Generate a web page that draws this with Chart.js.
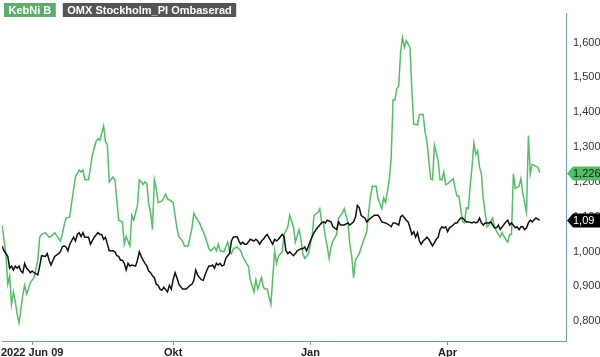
<!DOCTYPE html>
<html>
<head>
<meta charset="utf-8">
<script src="https://cdn.jsdelivr.net/npm/chart.js@4"></script>
<style>
html,body{margin:0;padding:0;background:#fff;}
#wrap{width:600px;height:357px;position:relative;}
</style>
</head>
<body>
<div id="wrap"><canvas id="c" width="600" height="357"></canvas></div>
<script>
// Trading-day index of each reading (day 0 = first bar of the chart)
const kebniDays = [0,2,3,4,5,6,7,8,9,11,12,13,14,15,17,19,20,21,23,25,26,28,31,32,33,34,36,37,39,41,42,43,44,46,48,49,50,51,52,54,55,56,57,59,60,61,62,64,65,66,68,69,70,72,73,74,75,76,77,78,79,80,81,82,83,85,86,87,88,90,91,92,93,94,96,97,99,101,102,103,105,107,109,110,111,113,114,115,116,118,120,121,122,123,125,127,128,130,131,132,134,135,136,138,139,140,141,143,144,145,146,147,149,150,152,153,155,156,158,159,160,161,163,164,165,166,168,169,170,171,172,173,174,175,176,178,179,181,182,184,185,186,187,188,190,192,194,195,196,197,199,200,202,203,204,206,207,208,209,210,211,212,213,214,215,217,218,219,221,222,224,225,226,228,229,230,232,233,234,235,236,237,240,241,242,243,245,246,247,248,249,250,251,252,253,254,255,256,258,259,261,262,264,265,266,267,269,270,271,272,273,275,276,277,279,280,281,282,285,286];
const kebniValues = [1.076,0.994,0.906,0.930,0.848,0.884,0.856,0.820,0.795,0.875,0.903,0.878,0.892,0.911,0.925,0.975,1.041,1.049,1.054,1.041,1.043,1.054,1.030,1.049,1.076,1.096,1.099,1.140,1.214,1.234,1.228,1.234,1.206,1.206,1.275,1.297,1.316,1.324,1.319,1.360,1.316,1.305,1.200,1.214,1.206,1.151,1.090,1.085,1.021,1.043,1.016,1.104,1.090,1.132,1.206,1.200,1.192,1.200,1.195,1.137,1.112,1.063,1.206,1.181,1.140,1.145,1.154,1.165,1.151,1.145,1.140,1.104,1.068,1.043,1.030,1.016,1.016,1.068,1.110,1.099,1.082,1.057,1.027,1.008,1.002,1.013,1.002,1.021,1.002,0.999,1.027,1.002,0.994,1.008,1.013,1.002,0.986,0.966,0.958,0.919,0.884,0.919,0.892,0.925,0.897,0.892,0.892,0.848,0.925,1.002,0.966,0.986,0.999,1.049,1.071,1.104,1.071,1.027,1.063,1.035,0.994,0.980,0.994,1.021,1.049,1.104,1.112,1.123,1.085,1.082,1.041,1.013,0.980,1.013,1.030,1.049,1.096,1.110,1.123,1.082,1.021,0.986,0.925,0.975,0.994,1.027,1.057,1.112,1.159,1.187,1.187,1.151,1.123,1.154,1.140,1.206,1.269,1.435,1.435,1.468,1.476,1.572,1.614,1.586,1.605,1.586,1.462,1.366,1.363,1.393,1.393,1.344,1.316,1.209,1.206,1.305,1.261,1.206,1.206,1.228,1.192,1.195,1.209,1.181,1.159,1.159,1.085,1.082,1.126,1.123,1.187,1.242,1.311,1.278,1.289,1.242,1.223,1.151,1.071,1.076,1.096,1.068,1.049,1.041,1.054,1.043,1.027,1.049,1.049,1.223,1.181,1.187,1.209,1.167,1.112,1.333,1.223,1.250,1.242,1.226];

const omxDays = [0,1,3,4,5,6,7,8,9,10,11,12,13,14,15,16,17,19,20,21,23,24,25,26,28,30,31,32,33,34,35,36,38,39,40,41,42,43,44,46,47,49,51,52,53,54,55,56,57,59,60,61,62,63,64,65,66,67,68,69,71,72,73,74,75,76,77,78,79,80,81,82,83,84,85,86,88,89,90,91,92,93,94,96,98,100,101,102,103,104,105,106,107,108,109,110,111,112,113,114,115,116,117,118,119,120,121,122,123,125,126,127,128,129,130,131,132,134,135,136,137,138,139,140,141,143,144,145,146,147,149,150,151,152,153,155,156,157,159,160,161,162,163,164,165,166,167,169,170,171,172,173,175,176,178,179,180,182,184,185,187,188,189,190,191,192,193,194,196,197,198,200,201,202,204,206,207,208,209,211,212,213,215,216,217,218,219,220,221,222,223,224,225,226,227,229,231,232,233,234,235,236,237,238,240,241,242,243,244,245,247,248,250,251,252,253,254,255,256,257,259,260,261,262,263,264,265,268,269,270,271,273,274,275,276,277,278,279,280,281,282,284,286];
const omxValues = [1.016,1.002,0.986,0.952,0.958,0.947,0.958,0.952,0.958,0.944,0.939,0.966,0.952,0.947,0.939,0.944,0.939,0.933,0.958,0.988,0.986,0.994,0.975,0.961,0.986,0.994,0.999,1.013,1.016,1.013,1.002,1.021,1.041,1.030,1.049,1.054,1.043,1.054,1.041,1.041,1.021,1.041,1.054,1.049,1.049,1.035,1.041,1.021,1.002,1.002,0.999,0.988,0.986,0.975,0.975,0.966,0.947,0.966,0.958,0.961,0.958,0.975,0.999,0.986,0.975,0.966,0.958,0.944,0.939,0.930,0.925,0.906,0.903,0.892,0.889,0.897,0.884,0.903,0.892,0.919,0.939,0.925,0.906,0.892,0.892,0.903,0.906,0.917,0.947,0.933,0.925,0.919,0.917,0.933,0.947,0.958,0.958,0.961,0.952,0.966,0.961,0.966,0.958,0.961,0.980,0.988,0.994,1.030,1.041,1.043,1.030,1.021,1.027,1.021,1.021,1.027,1.035,1.030,1.035,1.030,1.021,1.030,1.035,1.043,1.049,1.030,1.021,1.035,1.030,1.035,1.049,1.043,1.002,0.994,0.999,0.988,0.994,1.002,1.008,1.008,1.013,1.002,1.016,1.030,1.043,1.054,1.063,1.076,1.082,1.085,1.082,1.090,1.085,1.071,1.063,1.085,1.076,1.076,1.082,1.076,1.085,1.099,1.132,1.126,1.104,1.099,1.096,1.085,1.096,1.099,1.104,1.104,1.096,1.085,1.082,1.076,1.071,1.082,1.082,1.076,1.099,1.104,1.090,1.085,1.068,1.049,1.057,1.041,1.054,1.030,1.021,1.030,1.035,1.041,1.035,1.016,1.035,1.041,1.063,1.071,1.068,1.071,1.057,1.068,1.076,1.082,1.082,1.090,1.096,1.096,1.085,1.085,1.082,1.085,1.082,1.085,1.096,1.082,1.076,1.082,1.082,1.085,1.076,1.068,1.068,1.076,1.063,1.085,1.090,1.076,1.082,1.068,1.071,1.063,1.071,1.071,1.063,1.068,1.082,1.090,1.085,1.096,1.090];

const seriesNames = ['KebNi B', 'OMX Stockholm_PI Ombaserad'];
const seriesColors = ['#52bf66', '#111111'];
const legendColors = ['#5fab6c', '#555555'];
const tagLabels = ['1,226', '1,09'];
const tagTextColors = ['#1a1a1a', '#ffffff'];
const tagFillColors = ['#52bf66', '#000000'];

const xTickDays = [16, 91, 164, 237];
const xTickLabels = ['2022 Jun 09', 'Okt', 'Jan', 'Apr'];
const yTickValues = [0.8, 0.9, 1.0, 1.1, 1.2, 1.3, 1.4, 1.5, 1.6];

function pts(days, vals) { return days.map((d, i) => ({x: d, y: vals[i]})); }

const legendPlugin = {
  id: 'boxLegend',
  afterDraw(chart) {
    const ctx = chart.ctx;
    ctx.save();
    ctx.font = 'bold 11px "Liberation Sans", Arial, sans-serif';
    ctx.textBaseline = 'middle';
    let x = 4;
    seriesNames.forEach((name, i) => {
      const w = ctx.measureText(name).width + 9;
      ctx.fillStyle = legendColors[i];
      ctx.fillRect(x, 3, w, 14);
      ctx.fillStyle = '#ffffff';
      ctx.fillText(name, x + 4.5, 10.5);
      x += w + 7;
    });
    ctx.restore();
  }
};

const tagPlugin = {
  id: 'lastTags',
  afterDatasetsDraw(chart) {
    const ctx = chart.ctx;
    const ys = chart.scales.y;
    const left = chart.chartArea.right + 1;
    ctx.save();
    ctx.font = '11px "Liberation Sans", Arial, sans-serif';
    ctx.textBaseline = 'middle';
    chart.data.datasets.forEach((ds, i) => {
      const last = ds.data[ds.data.length - 1];
      const y = Math.round(ys.getPixelForValue(last.y)) + 0.5;
      const h = 14;
      ctx.fillStyle = tagFillColors[i];
      ctx.beginPath();
      ctx.moveTo(left, y);
      ctx.lineTo(left + 6, y - h / 2);
      ctx.lineTo(600, y - h / 2);
      ctx.lineTo(600, y + h / 2);
      ctx.lineTo(left + 6, y + h / 2);
      ctx.closePath();
      ctx.fill();
      ctx.fillStyle = tagTextColors[i];
      ctx.fillText(tagLabels[i], left + 6, y + 0.5);
    });
    ctx.restore();
  }
};

const axisColor = '#6b9cc0';

new Chart(document.getElementById('c'), {
  type: 'line',
  data: {
    datasets: [
      {label: seriesNames[0], data: pts(kebniDays, kebniValues), borderColor: seriesColors[0], borderWidth: 1.5, pointRadius: 0, tension: 0, order: 2},
      {label: seriesNames[1], data: pts(omxDays, omxValues), borderColor: seriesColors[1], borderWidth: 1.5, pointRadius: 0, tension: 0, order: 1}
    ]
  },
  options: {
    responsive: false,
    animation: false,
    layout: {padding: 0},
    plugins: {legend: {display: false}, tooltip: {enabled: false}},
    scales: {
      x: {
        type: 'linear',
        min: 0, max: 300,
        afterBuildTicks(axis) { axis.ticks = xTickDays.map(v => ({value: v})); },
        afterFit(axis) { axis.height = 16; },
        ticks: {
          autoSkip: false, maxRotation: 0, padding: 1,
          color: '#222222',
          font: {family: '"Liberation Sans", Arial, sans-serif', size: 11, weight: 'bold'},
          callback(v) { const i = xTickDays.indexOf(v); return i >= 0 ? xTickLabels[i] : ''; }
        },
        grid: {display: true, drawOnChartArea: false, drawTicks: true, tickLength: 4, color: axisColor},
        border: {display: true, color: axisColor, width: 1}
      },
      y: {
        position: 'right',
        min: 0.743, max: 1.683,
        afterBuildTicks(axis) { axis.ticks = yTickValues.map(v => ({value: v})); },
        afterFit(axis) { axis.width = 34; },
        ticks: {
          padding: 7,
          color: '#333344',
          font: {family: '"Liberation Sans", Arial, sans-serif', size: 11},
          callback(v) { return v.toFixed(3).replace('.', ','); }
        },
        grid: {display: false, drawTicks: false},
        border: {display: true, color: axisColor, width: 1}
      }
    }
  },
  plugins: [legendPlugin, tagPlugin]
});
</script>
</body>
</html>
